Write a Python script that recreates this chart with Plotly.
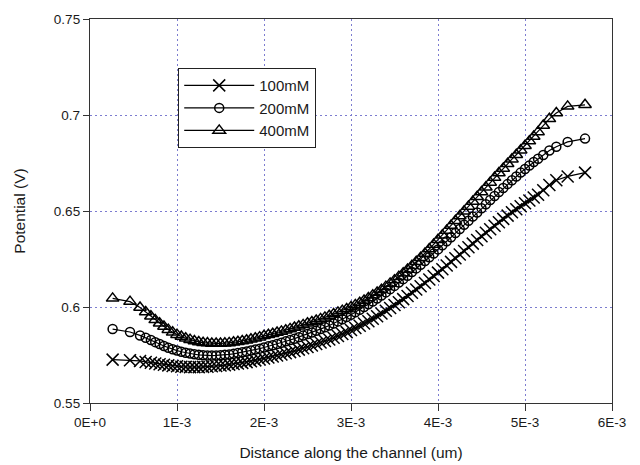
import plotly.graph_objects as go

# Distance along the channel, in units of 1E-3 um (mesh used for all three runs)
distance_e3 = [
    0.26, 0.46, 0.575, 0.64,
    0.70, 0.75, 0.80, 0.85, 0.90, 0.95, 1.00, 1.05, 1.10, 1.15,
    1.20, 1.25, 1.30, 1.35, 1.40, 1.45, 1.50, 1.55, 1.60, 1.65,
    1.70, 1.75, 1.80, 1.85, 1.90, 1.95, 2.00, 2.05, 2.10, 2.15,
    2.20, 2.25, 2.30, 2.35, 2.40, 2.45, 2.50, 2.55, 2.60, 2.65,
    2.70, 2.75, 2.80, 2.85, 2.90, 2.95, 3.00, 3.05, 3.10, 3.15,
    3.20, 3.25, 3.30, 3.35, 3.40, 3.45, 3.50, 3.55, 3.60, 3.65,
    3.70, 3.75, 3.80, 3.85, 3.90, 3.95, 4.00, 4.05, 4.10, 4.15,
    4.20, 4.25, 4.30, 4.35, 4.40, 4.45, 4.50, 4.55, 4.60, 4.65,
    4.70, 4.75, 4.80, 4.85, 4.90, 4.95, 5.00, 5.05, 5.10, 5.15,
    5.21, 5.28, 5.36, 5.49, 5.69,
]

# Potential (V) for each concentration
potential_100mM = [
    0.5726, 0.5723, 0.5719, 0.5714,
    0.5710, 0.5706, 0.5702, 0.5699, 0.5696, 0.5693, 0.5691, 0.5689, 0.5688, 0.5687,
    0.5687, 0.5687, 0.5688, 0.5689, 0.5691, 0.5693, 0.5695, 0.5697, 0.5700, 0.5703,
    0.5706, 0.5709, 0.5713, 0.5717, 0.5722, 0.5727, 0.5732, 0.5737, 0.5742, 0.5747,
    0.5753, 0.5759, 0.5765, 0.5771, 0.5778, 0.5785, 0.5792, 0.5799, 0.5807, 0.5815,
    0.5823, 0.5831, 0.5840, 0.5849, 0.5859, 0.5869, 0.5880, 0.5891, 0.5902, 0.5914,
    0.5926, 0.5939, 0.5952, 0.5966, 0.5980, 0.5995, 0.6010, 0.6025, 0.6041, 0.6057,
    0.6074, 0.6091, 0.6108, 0.6125, 0.6143, 0.6161, 0.6179, 0.6197, 0.6216, 0.6235,
    0.6254, 0.6273, 0.6292, 0.6311, 0.6330, 0.6349, 0.6368, 0.6387, 0.6405, 0.6423,
    0.6441, 0.6459, 0.6476, 0.6493, 0.6509, 0.6525, 0.6540, 0.6555, 0.6570, 0.6585,
    0.6608, 0.6635, 0.6660, 0.6680, 0.6700,
]

potential_200mM = [
    0.5885, 0.5870, 0.5852, 0.5840,
    0.5828, 0.5817, 0.5807, 0.5797, 0.5788, 0.5780, 0.5773, 0.5767, 0.5762, 0.5758,
    0.5754, 0.5751, 0.5749, 0.5748, 0.5747, 0.5748, 0.5749, 0.5751, 0.5753, 0.5756,
    0.5760, 0.5764, 0.5768, 0.5773, 0.5778, 0.5783, 0.5789, 0.5795, 0.5801, 0.5807,
    0.5814, 0.5821, 0.5828, 0.5835, 0.5843, 0.5851, 0.5859, 0.5867, 0.5876, 0.5885,
    0.5894, 0.5904, 0.5914, 0.5925, 0.5936, 0.5948, 0.5960, 0.5973, 0.5986, 0.6000,
    0.6014, 0.6029, 0.6044, 0.6060, 0.6076, 0.6093, 0.6110, 0.6127, 0.6145, 0.6163,
    0.6182, 0.6201, 0.6220, 0.6239, 0.6259, 0.6279, 0.6300, 0.6321, 0.6342, 0.6363,
    0.6385, 0.6406, 0.6428, 0.6449, 0.6471, 0.6492, 0.6514, 0.6535, 0.6557, 0.6578,
    0.6599, 0.6620, 0.6640, 0.6660, 0.6680, 0.6700, 0.6719, 0.6737, 0.6755, 0.6772,
    0.6792, 0.6815, 0.6835, 0.6860, 0.6877,
]

potential_400mM = [
    0.6045, 0.6028, 0.5997, 0.5974,
    0.5952, 0.5933, 0.5915, 0.5898, 0.5882, 0.5868, 0.5856, 0.5846, 0.5837, 0.5830,
    0.5823, 0.5818, 0.5814, 0.5812, 0.5810, 0.5810, 0.5810, 0.5811, 0.5813, 0.5816,
    0.5819, 0.5823, 0.5827, 0.5832, 0.5837, 0.5843, 0.5850, 0.5855, 0.5861, 0.5867,
    0.5873, 0.5879, 0.5886, 0.5893, 0.5900, 0.5907, 0.5915, 0.5922, 0.5930, 0.5938,
    0.5946, 0.5954, 0.5963, 0.5972, 0.5981, 0.5990, 0.6000, 0.6011, 0.6022, 0.6034,
    0.6047, 0.6061, 0.6075, 0.6090, 0.6106, 0.6123, 0.6140, 0.6158, 0.6176, 0.6195,
    0.6215, 0.6236, 0.6257, 0.6279, 0.6302, 0.6326, 0.6350, 0.6374, 0.6399, 0.6424,
    0.6449, 0.6474, 0.6499, 0.6524, 0.6549, 0.6574, 0.6599, 0.6624, 0.6649, 0.6674,
    0.6698, 0.6722, 0.6746, 0.6770, 0.6793, 0.6817, 0.6840, 0.6864, 0.6888, 0.6912,
    0.6945, 0.6980, 0.7010, 0.7045, 0.7053,
]

series_names = ["100mM", "200mM", "400mM"]
series_symbols = ["x-thin-open", "circle-open", "triangle-up-open"]
series_sizes = [12, 9, 11]

x_tick_values = [0, 0.001, 0.002, 0.003, 0.004, 0.005, 0.006]
x_tick_labels = ["0E+0", "1E-3", "2E-3", "3E-3", "4E-3", "5E-3", "6E-3"]
y_tick_values = [0.55, 0.6, 0.65, 0.7, 0.75]
y_tick_labels = ["0.55", "0.6", "0.65", "0.7", "0.75"]

distance = [d * 1e-3 for d in distance_e3]

fig = go.Figure()
for name, ys, sym, size in zip(series_names,
                               [potential_100mM, potential_200mM, potential_400mM],
                               series_symbols, series_sizes):
    fig.add_trace(go.Scatter(
        x=distance, y=ys, name=name, mode="lines+markers",
        line=dict(color="black", width=1.2),
        marker=dict(symbol=sym, size=size, color="black",
                    line=dict(color="black", width=1.5)),
    ))

font_family = "Liberation Sans, Arial, sans-serif"
grid_color = "#7c7cd0"
frame_color = "#333333"
text_color = "#1a1a1a"

fig.update_layout(
    width=640, height=465,
    margin=dict(l=90, r=28, t=19, b=62),
    paper_bgcolor="white", plot_bgcolor="white",
    font=dict(family=font_family, size=13, color=text_color),
    showlegend=True,
    legend=dict(
        x=0.169, y=0.872, xanchor="left", yanchor="top",
        bgcolor="white", bordercolor="#222", borderwidth=1,
        font=dict(size=15, color=text_color),
        tracegroupgap=0, itemwidth=70,
    ),
)

fig.update_xaxes(
    range=[0, 0.006], tickvals=x_tick_values, ticktext=x_tick_labels,
    showgrid=True, gridcolor=grid_color, gridwidth=1, griddash="2px,3px",
    showline=True, linecolor=frame_color, linewidth=1.3, mirror=True,
    ticks="outside", ticklen=7, tickcolor=frame_color, tickwidth=1,
    tickfont=dict(size=13.5, color=text_color), zeroline=False,
    automargin=False,
    title=dict(text="Distance along the channel (um)",
               font=dict(size=15.5, color=text_color), standoff=17),
)
fig.update_yaxes(
    range=[0.55, 0.75], tickvals=y_tick_values, ticktext=y_tick_labels,
    showgrid=True, gridcolor=grid_color, gridwidth=1, griddash="2px,3px",
    showline=True, linecolor=frame_color, linewidth=1.3, mirror=True,
    ticks="outside", ticklen=6, tickcolor=frame_color, tickwidth=1,
    tickfont=dict(size=13.5, color=text_color), zeroline=False,
    automargin=False,
    title=dict(text="Potential (V)", font=dict(size=15.5, color=text_color),
               standoff=24),
)

fig.write_html("out.html")
